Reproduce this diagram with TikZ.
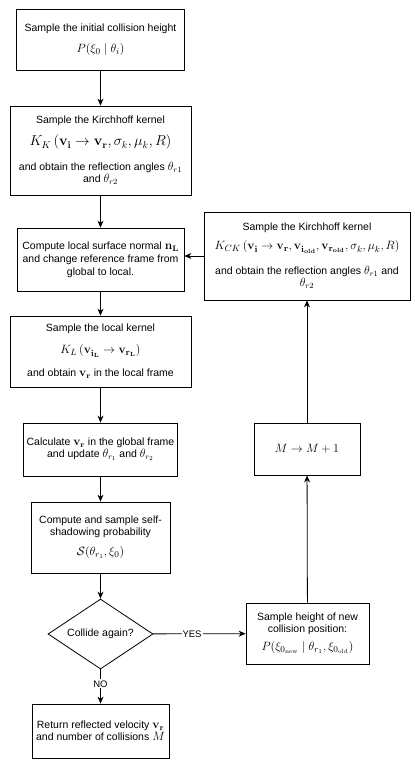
\documentclass[tikz,border=0pt]{standalone}
\usepackage[no-math]{fontspec}
\setmainfont{Liberation Sans}
\usetikzlibrary{arrows.meta,shapes.geometric}
\newcommand{\mbig}[1]{{\fontsize{13}{15}\selectfont$#1$}}
\newcommand{\mbigger}[1]{{\fontsize{14}{16}\selectfont$#1$}}
\newcommand{\mi}[1]{{\fontsize{12}{12}\selectfont$#1$}}
\begin{document}
\begin{tikzpicture}[x=1pt,y=-1pt,
  box/.style={draw, line width=0.8pt, align=center, inner sep=0pt,
    font=\fontsize{10.5}{12}\selectfont},
  dec/.style={draw, line width=0.8pt, diamond, aspect=1.5, inner sep=0pt,
    font=\fontsize{10.5}{12}\selectfont},
  arr/.style={line width=0.8pt, -{Stealth[length=7pt,width=6pt]}},
  lbl/.style={fill=white, inner sep=1pt, font=\fontsize{9.5}{11}\selectfont}]
\useasboundingbox (0,0) rectangle (415,764);
\fill[white] (0,0) rectangle (415,764);

\node[box, minimum width=168pt, minimum height=61pt] (b1) at (100.5,39.5)
  {Sample the initial collision height\\[9pt]
   \mbig{P(\xi_0\mid\theta_i)}};

\node[box, minimum width=181pt, minimum height=89pt] (b2) at (100.5,150.5)
  {Sample the Kirchhoff kernel\\[8pt]
   \mbigger{K_K\left(\mathbf{v_i}\rightarrow\mathbf{v_r},\sigma_k,\mu_k,R\right)}\\[13pt]
   and obtain the reflection angles \mi{\theta_{r1}}\\
   and \mi{\theta_{r2}}};

\node[box, minimum width=167pt, minimum height=63pt] (b3) at (100.5,259.5)
  {Compute local surface normal \mi{\mathbf{n_L}}\\[1pt]
   and change reference frame from\\[1pt]
   global to local.};

\node[box, minimum width=181pt, minimum height=71pt] (b4) at (100.5,351.5)
  {Sample the local kernel\\[10pt]
   \mbig{K_L\left(\mathbf{v}_{\mathbf{i}_\mathbf{L}}\rightarrow\mathbf{v}_{\mathbf{r}_\mathbf{L}}\right)}\\[11pt]
   and obtain \mi{\mathbf{v_r}} in the local frame};

\node[box, minimum width=154pt, minimum height=53pt] (b5) at (100.5,449.5)
  {Calculate \mi{\mathbf{v_r}} in the global frame\\
   and update \mi{\theta_{r_1}} and \mi{\theta_{r_2}}};

\node[box, minimum width=139pt, minimum height=71pt] (b6) at (100.5,537.5)
  {Compute and sample self-\\
   shadowing probability\\[8pt]
   \mbig{\mathcal{S}(\theta_{r_1},\xi_0)}};

\node[dec, minimum width=105pt, minimum height=70pt] (d) at (100.5,634)
  {Collide again?};

\node[box, minimum width=137pt, minimum height=54pt] (b7) at (100.5,731)
  {Return reflected velocity \mi{\mathbf{v_r}}\\
   and number of collisions \mi{M}};

\node[box, minimum width=206pt, minimum height=88pt] (kck) at (307,256)
  {Sample the Kirchhoff kernel\\[7pt]
   \mbig{K_{CK}\left(\mathbf{v_i}\rightarrow\mathbf{v_r},\mathbf{v}_{\mathbf{i}_\mathbf{old}},\mathbf{v}_{\mathbf{r}_\mathbf{old}},\sigma_k,\mu_k,R\right)}\\[13pt]
   and obtain the reflection angles \mi{\theta_{r1}} and\\
   \mi{\theta_{r2}}};

\node[box, minimum width=106pt, minimum height=52pt] (m) at (307,449)
  {\mbig{M\rightarrow M+1}};

\node[box, minimum width=123pt, minimum height=61pt] (sh) at (307.5,633.5)
  {Sample height of new\\
   collision position:\\[6pt]
   \mbig{P(\xi_{0_\mathrm{new}}\mid\theta_{r_1},\xi_{0_\mathrm{old}})}};

\draw[arr] (b1) -- (b2);
\draw[arr] (b2) -- (b3);
\draw[arr] (b3) -- (b4);
\draw[arr] (b4) -- (b5);
\draw[arr] (b5) -- (b6);
\draw[arr] (b6) -- (d);
\draw[arr] (d) -- node[lbl, pos=0.42] {NO} (b7);
\draw[arr] (d) -- node[lbl, pos=0.42] {YES} (sh);
\draw[arr] (sh) -- (m);
\draw[arr] (m) -- (kck);
\draw[arr] (kck.west) -- (kck.west -| b3.east);
\end{tikzpicture}
\end{document}
